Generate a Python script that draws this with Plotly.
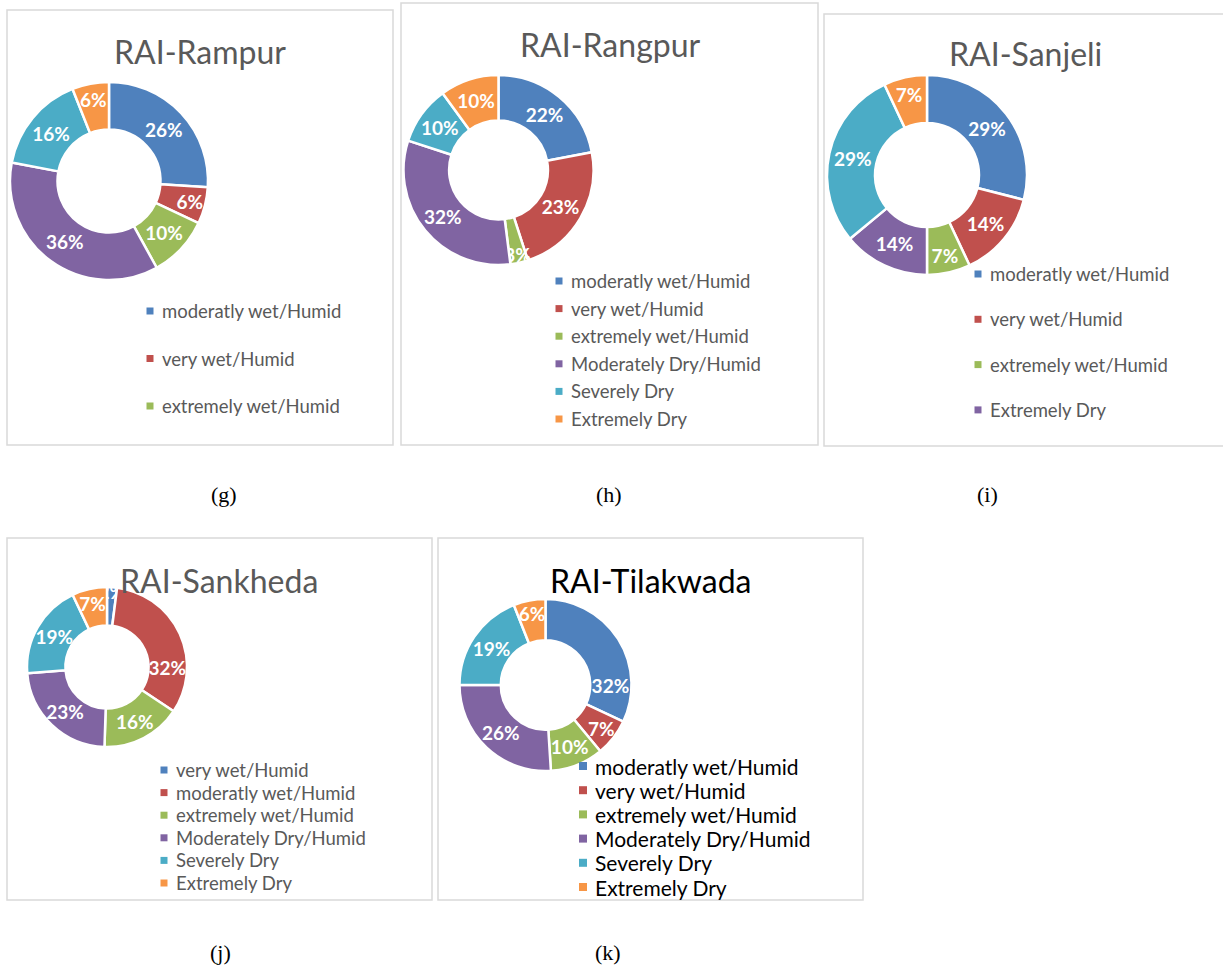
import plotly.graph_objects as go

W, H = 1223, 967

# ---------------- data ----------------
rampur_labels = ["moderatly wet/Humid", "very wet/Humid", "extremely wet/Humid",
                 "Moderately Dry/Humid", "Severely Dry", "Extremely Dry"]
rampur_values = [26, 6, 10, 36, 16, 6]

rangpur_labels = ["moderatly wet/Humid", "very wet/Humid", "extremely wet/Humid",
                  "Moderately Dry/Humid", "Severely Dry", "Extremely Dry"]
rangpur_values = [22, 23, 3, 32, 10, 10]

sanjeli_labels = ["moderatly wet/Humid", "very wet/Humid", "extremely wet/Humid",
                  "Extremely Dry", "Severely Dry", "Moderately Dry/Humid"]
sanjeli_values = [29, 14, 7, 14, 29, 7]

sankheda_labels = ["very wet/Humid", "moderatly wet/Humid", "extremely wet/Humid",
                   "Moderately Dry/Humid", "Severely Dry", "Extremely Dry"]
sankheda_values = [2, 32, 16, 23, 19, 7]

tilakwada_labels = ["moderatly wet/Humid", "very wet/Humid", "extremely wet/Humid",
                    "Moderately Dry/Humid", "Severely Dry", "Extremely Dry"]
tilakwada_values = [32, 7, 10, 26, 19, 6]

titles = ["RAI-Rampur", "RAI-Rangpur", "RAI-Sanjeli", "RAI-Sankheda", "RAI-Tilakwada"]
panel_tags = ["(g)", "(h)", "(i)", "(j)", "(k)"]

# ---------------- style ----------------
COLORS = ["#4F81BD", "#C0504D", "#9BBB59", "#8064A2", "#4BACC6", "#F79646"]
GREY = "#595959"
BORDER = "#D9D9D9"
FONT = "Lato"
LABEL_PX = 19


def fx(px):
    return px / W


def fy(py):
    return 1 - py / H


panels = [
    dict(labels=rampur_labels, values=rampur_values, title=titles[0], tag=panel_tags[0],
         box=(7, 10, 393, 445), c=(109, 181), r=99, tpos=(200, 52), tsize=32, tcol=GREY,
         leg=(150, 311, 47.5), nleg=3, lsize=18.5, lcol=GREY, tagpos=(224, 494)),
    dict(labels=rangpur_labels, values=rangpur_values, title=titles[1], tag=panel_tags[1],
         box=(401, 3, 818, 445), c=(498.5, 170), r=95, tpos=(610, 45), tsize=32, tcol=GREY,
         leg=(559, 281, 27.6), nleg=6, lsize=18.5, lcol=GREY, tagpos=(609, 494)),
    dict(labels=sanjeli_labels, values=sanjeli_values, title=titles[2], tag=panel_tags[2],
         box=(824, 14, 1240, 446), c=(927, 175), r=100, tpos=(1025, 54), tsize=32, tcol=GREY,
         leg=(978, 274, 45.3), nleg=4, lsize=18.5, lcol=GREY, tagpos=(987, 494)),
    dict(labels=sankheda_labels, values=sankheda_values, title=titles[3], tag=panel_tags[3],
         box=(7, 538, 432, 900), c=(107, 667), r=80, tpos=(219, 580), tsize=32, tcol=GREY,
         leg=(164, 770, 22.6), nleg=6, lsize=18.5, lcol=GREY, tagpos=(220, 952)),
    dict(labels=tilakwada_labels, values=tilakwada_values, title=titles[4], tag=panel_tags[4],
         box=(438, 538, 863, 900), c=(545.5, 685), r=86, tpos=(650, 580), tsize=32, tcol="#000000",
         leg=(583, 766, 24.2), nleg=6, lsize=21, lcol="#000000", tagpos=(608, 952)),
]

fig = go.Figure()
shapes = []
annotations = []

for p in panels:
    cx, cy = p["c"]
    r = p["r"]
    fig.add_trace(go.Pie(
        labels=p["labels"], values=p["values"],
        sort=False, direction="clockwise", rotation=0, hole=0.52,
        marker=dict(colors=COLORS, line=dict(color="white", width=2.5)),
        texttemplate="%{value}%", textposition="inside",
        insidetextorientation="horizontal",
        textfont=dict(family=FONT, size=LABEL_PX, color="white", weight="bold"),
        domain=dict(x=[fx(cx - r), fx(cx + r)], y=[fy(cy + r), fy(cy - r)]),
        showlegend=False, hoverinfo="label+value",
    ))
    x0, y0, x1, y1 = p["box"]
    shapes.append(dict(type="rect", xref="paper", yref="paper",
                       x0=fx(x0), x1=fx(x1), y0=fy(y1), y1=fy(y0),
                       line=dict(color=BORDER, width=1.5), fillcolor="rgba(0,0,0,0)",
                       layer="below"))
    annotations.append(dict(text=p["title"], x=fx(p["tpos"][0]), y=fy(p["tpos"][1]),
                            xref="paper", yref="paper", showarrow=False,
                            xanchor="center", yanchor="middle",
                            font=dict(family=FONT, size=p["tsize"], color=p["tcol"])))
    annotations.append(dict(text=p["tag"], x=fx(p["tagpos"][0]), y=fy(p["tagpos"][1]),
                            xref="paper", yref="paper", showarrow=False,
                            xanchor="center", yanchor="middle",
                            font=dict(family="Liberation Serif", size=22, color="#000000")))
    lx, ly, gap = p["leg"]
    msz = 3.5 if p["lsize"] < 20 else 4
    for i in range(p["nleg"]):
        yy = ly + i * gap
        shapes.append(dict(type="rect", xref="paper", yref="paper",
                           x0=fx(lx - msz), x1=fx(lx + msz), y0=fy(yy + msz), y1=fy(yy - msz),
                           fillcolor=COLORS[i], line=dict(width=0)))
        annotations.append(dict(text=p["labels"][i], x=fx(lx + msz + 6), y=fy(yy),
                                xref="paper", yref="paper", showarrow=False,
                                xanchor="left", yanchor="middle",
                                font=dict(family=FONT, size=p["lsize"], color=p["lcol"])))

fig.update_layout(
    width=W, height=H,
    margin=dict(l=0, r=0, t=0, b=0),
    paper_bgcolor="white", plot_bgcolor="white",
    shapes=shapes, annotations=annotations,
    uniformtext=dict(minsize=LABEL_PX, mode="show"),
    showlegend=False,
)

fig.write_html("out.html", config={"displayModeBar": False},
               post_script="document.body.style.margin='0';document.body.style.overflow='hidden';")
